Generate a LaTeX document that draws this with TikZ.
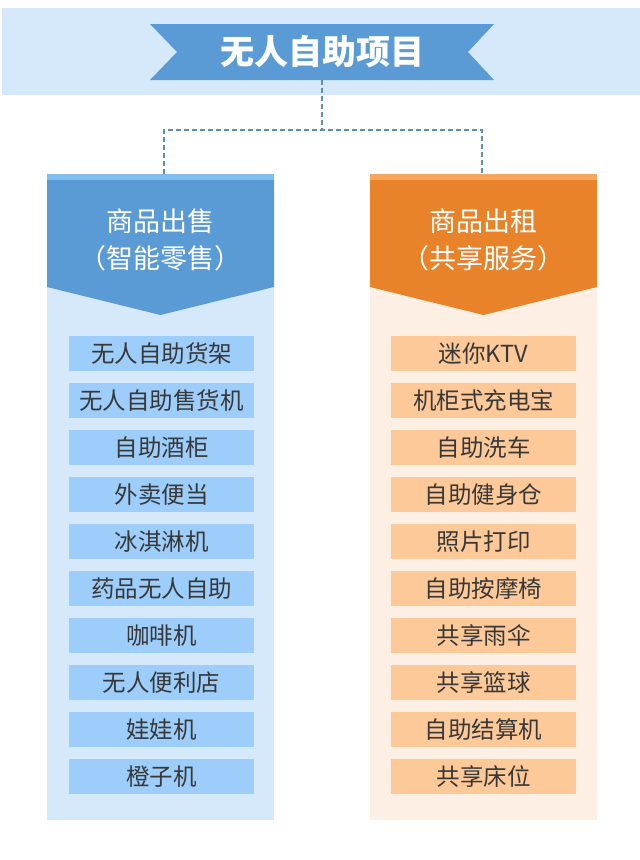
\documentclass[tikz,border=0pt]{standalone}
\usepackage{fontspec}
\setmainfont{Noto Sans CJK SC}
\definecolor{bandblue}{HTML}{D5E9FB}
\definecolor{ribbonblue}{HTML}{5B9BD5}
\definecolor{ltop}{HTML}{80BEF2}
\definecolor{lhead}{HTML}{5B9BD5}
\definecolor{lbg}{HTML}{D5E9FB}
\definecolor{litem}{HTML}{9DCDFA}
\definecolor{rtop}{HTML}{F7A65C}
\definecolor{rhead}{HTML}{E8832A}
\definecolor{rbg}{HTML}{FDEFE3}
\definecolor{ritem}{HTML}{FDC998}
\definecolor{itemtext}{HTML}{383838}
\definecolor{dashcol}{HTML}{5B8DBA}
\tikzset{
  itembox/.style={minimum width=185pt, minimum height=35pt, inner sep=0pt, text=itemtext, font=\fontsize{23.5}{26}\selectfont},
  headtext/.style={text=white, align=center, inner sep=0pt, font=\fontsize{27}{37}\selectfont},
  conn/.style={draw=dashcol, line width=1.5pt, dash pattern=on 5pt off 3pt}
}
\begin{document}
\begin{tikzpicture}[x=1pt,y=-1pt]
\useasboundingbox (0,0) rectangle (640,860);
\fill[white] (0,0) rectangle (640,860);
% top band
\fill[bandblue] (2,8) rectangle (640,95);
% ribbon
\fill[ribbonblue] (150,24) -- (494,24) -- (468,52) -- (494,80) -- (150,80) -- (177,52) -- cycle;
\node[text=white, inner sep=0pt, font=\fontsize{34}{40}\selectfont\bfseries] (title) at (322,52) {无人自助项目};
% left column
\fill[lbg] (47,174) rectangle (274,820);
\fill[ltop] (47,174) rectangle (274,180);
\fill[lhead] (47,180) -- (274,180) -- (274,287) -- (160.5,315) -- (47,287) -- cycle;
\node[headtext] (lheadtxt) at (160.5,240) {商品出售\\（智能零售）};
% right column
\fill[rbg] (370,174) rectangle (597,820);
\fill[rtop] (370,174) rectangle (597,180);
\fill[rhead] (370,180) -- (597,180) -- (597,287) -- (483.5,315) -- (370,287) -- cycle;
\node[headtext] (rheadtxt) at (483.5,240) {商品出租\\（共享服务）};
% items
\foreach [count=\i from 0] \t in {无人自助货架,无人自助售货机,自助酒柜,外卖便当,冰淇淋机,药品无人自助,咖啡机,无人便利店,娃娃机,橙子机}
  \node[itembox, fill=litem] (l\i) at (161.5,{353.5+47*\i}) {\t};
\foreach [count=\i from 0] \t in {迷你KTV,机柜式充电宝,自助洗车,自助健身仓,照片打印,自助按摩椅,共享雨伞,共享篮球,自助结算机,共享床位}
  \node[itembox, fill=ritem] (r\i) at (483.5,{353.5+47*\i}) {\t};
% connectors
\coordinate (tb) at (322,80);
\coordinate (tm) at (322,130);
\coordinate (jl) at (164,174);
\coordinate (jr) at (482,174);
\draw[conn] (tb) -- (tm);
\draw[conn] (jl) |- (tm) -| (jr);
\end{tikzpicture}
\end{document}
